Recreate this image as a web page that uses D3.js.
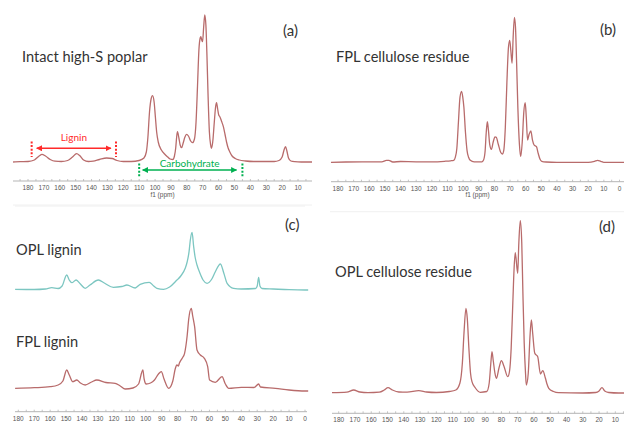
<!DOCTYPE html>
<html lang="en">
<head>
	<meta charset="UTF-8">
	<title>Solid-state 13C NMR spectra</title>
	<style>
		html, body {
			margin: 0;
			background: #fff;
		}
		svg text {
			font-family: Lato, 'Liberation Sans', sans-serif;
		}
		.tick-label, .axis-title {
			font-family: 'Liberation Sans', sans-serif;
			fill: #555;
		}
	</style>
	<script src="https://cdn.jsdelivr.net/npm/d3@7"></script>
</head>
<body>
	<svg id="container" width="624" height="425"></svg>
	<script>
		// spectra as [ppm, intensity (a.u.)], high ppm -> low ppm
		const poplarSpectrum = [
			[189.4, 0], [185, 0.3], [180, 0.5], [176, 2], [173, 6], [171.2, 7.7], [169, 6], [166, 2.5], [163, 0.8],
			[159, 0.5], [155, 1.5], [152, 5], [149.4, 8.3], [147.5, 6.5], [145, 2], [142, 0.5], [139, 0.8], [135, 2.5],
			[130.5, 4], [127, 3.5], [124, 1.5], [120, 0.5], [115, 0.5], [110, 1.5], [107, 4], [105.5, 10], [104.5, 25],
			[103.5, 50], [102.5, 63], [101.6, 66.3], [100.6, 60], [99.8, 45], [99, 30], [98, 20], [96, 12], [94, 8],
			[92, 5], [90.5, 3], [88.8, 2.5], [87.8, 6], [87, 14], [86.4, 25], [85.9, 30.3], [85, 24], [84.2, 17],
			[83.3, 14.3], [82.3, 19], [81.2, 25], [80.2, 27.7], [79, 26], [77.6, 21], [76.4, 19.3], [75.2, 23],
			[74.2, 40], [73.3, 75], [72.4, 112], [71.6, 124], [71.2, 125.3], [70.6, 122], [70.1, 120.3], [69.4, 135],
			[68.7, 147], [68, 137], [67.4, 110], [66.6, 65], [65.8, 30], [65, 17], [64.5, 13.7], [63.7, 20], [62.7, 40],
			[61.9, 55], [61.3, 59.3], [60.6, 53], [59.9, 47], [59.2, 45.3], [58.2, 41], [57, 35.3], [56, 28], [55, 20],
			[54, 14], [53, 10.3], [51.5, 6], [49.5, 3.5], [47, 2], [43, 1], [38, 0.5], [30, 0.5], [25, 0.5], [22, 1.5],
			[20, 5], [18.8, 12], [17.9, 15.3], [17, 11], [16, 4], [14.5, 1], [12, 0.3], [8, 0], [4, 0], [0, 0]
		];
		const fplResidueSpectrum = [
			[184.5, 0], [175, 0.3], [160, 0.5], [152, 0.5], [149, 2], [147.5, 2], [145, 0.3], [140, 0.8], [130, 0.5],
			[120, 0.5], [112, 1], [108, 1.5], [106, 2], [105, 5], [104, 14], [103, 40], [102, 65], [101, 71],
			[100.2, 65], [99.5, 55], [98.5, 30], [97.5, 12], [96.5, 5], [95.4, 2], [93, 0.5], [88, 0.5], [87, 2],
			[86, 10], [85.2, 30], [84.5, 40.6], [83.8, 32], [83, 18], [81.9, 13], [80.8, 20], [79.6, 25.5],
			[78.8, 25], [77.5, 18], [76, 10], [74.9, 8.3], [74, 12], [73, 35], [72, 80], [71, 115], [70.2, 122],
			[69.5, 112], [68.7, 99], [68, 125], [67.2, 145], [66.5, 135], [65.8, 100], [65, 55], [64, 18],
			[63.2, 5.6], [62.2, 20], [61.2, 50], [60.3, 59.6], [59.6, 45], [58.8, 22.3], [57.8, 28], [56.7, 31.3],
			[55.6, 22], [54.6, 17.3], [53.1, 15.6], [52, 9], [50.8, 3], [49.7, 1], [47, 0.3], [40, 0], [20, 0],
			[16, 1], [14, 2], [12, 1], [10, 0], [0, 0], [-4, 0]
		];
		const oplLigninSpectrum = [
			[182, 0.7], [170, 0.5], [163, 1], [159, 2.3], [155, 1.5], [152.5, 4], [149.6, 15], [148, 10],
			[146.4, 7.3], [143.7, 10], [141, 6], [138, 1.7], [135, 5], [129.7, 10], [126, 7], [120.3, 2.7],
			[115, 3.5], [111.8, 5], [106.6, 2], [103.5, 5.7], [97.8, 7.7], [95, 4], [93, 1.7], [88.8, 0.7],
			[85, 3], [80.4, 10], [78, 14], [75.2, 21.7], [74, 28], [72.8, 38.3], [72, 50], [70.9, 57.7],
			[69.9, 43.3], [69, 33], [67.8, 25], [66, 17], [64, 10], [61.5, 6.7], [58.5, 11], [56.3, 18.3],
			[53.1, 26], [51, 17], [48.9, 6.7], [44.8, 1.7], [40, 1], [31, 1.5], [30, 4], [29.1, 12.7], [28.3, 4],
			[27, 1.5], [20, 1], [10, 0.3], [0, 0], [-2, 0]
		];
		const fplLigninSpectrum = [
			[182, 2.7], [170, 3.3], [160, 4.3], [155, 6], [152, 10], [149.6, 21], [148, 16], [145.8, 9.3],
			[143.3, 11], [141, 8], [138, 6], [134, 9], [130.7, 11], [125, 8.5], [119.2, 7.7], [116, 5],
			[112.9, 2], [108, 3], [104.5, 7], [101.8, 21], [101, 12], [99.7, 7], [97, 8], [94.5, 11], [92, 17],
			[90.2, 19.3], [88.5, 12], [85.6, 2.7], [83, 10], [81.5, 22], [80.4, 26], [79.5, 25], [78.9, 27.7],
			[77, 33], [75.6, 37.7], [74, 55], [73, 72], [71.4, 82.7], [70.5, 75], [69.3, 64.3], [67.8, 41],
			[65.7, 36], [63.2, 32.7], [61.1, 24.3], [59.9, 11], [56.3, 8.7], [52.1, 14.3], [50, 7], [47.9, 2.7],
			[40, 3.7], [32, 3.5], [29.1, 7], [28, 4], [18.6, 2.7], [10, 1], [0, 0], [-2, 0]
		];
		const oplResidueSpectrum = [
			[184.1, 0.3], [175, 0.8], [170.8, 3], [167, 1], [162, 0.3], [155, 0.8], [152, 3], [149.7, 5.3],
			[147, 3], [143, 1], [138, 0.8], [130.8, 2.3], [126, 1], [120, 0.5], [112, 1.5], [108, 3], [105.5, 10],
			[104, 30], [103, 60], [101.8, 84.7], [101, 75], [100, 45], [99, 20], [98.1, 11.3], [96, 5], [93, 0.7],
			[89, 1.5], [87.5, 10], [86.5, 30], [85.8, 41.3], [85, 32], [84, 20], [83.1, 14.7], [81.5, 25],
			[80, 32.3], [78.5, 27], [76.1, 16.3], [75, 22], [74, 45], [73, 90], [72.2, 125], [71.5, 140.3],
			[70, 119.7], [69.3, 150], [68.4, 172.3], [67.5, 150], [66.8, 100], [66, 50], [65.2, 20], [64.7, 8],
			[63.5, 20], [62.5, 55], [61.6, 73], [60.8, 60], [59.5, 39.7], [57.7, 36.3], [56, 19], [54.6, 22.3],
			[53, 15], [52, 9], [50.9, 4.7], [48, 1.5], [45, 0.3], [30, 0], [22, 0.5], [20, 2], [18.2, 5.3],
			[16.5, 2], [14, 0.5], [8, 0], [0, 0]
		];

		const ppmTicks = d3.range(180, -1, -10);
		const minorTicks = d3.range(185, -1, -5);
		const panelLetters = ['(a)', '(b)', '(c)', '(d)'];
		const spectrumNames = ['Intact high-S poplar', 'FPL cellulose residue', 'OPL lignin', 'FPL lignin', 'OPL cellulose residue'];
		const regionNames = ['Lignin', 'Carbohydrate'];
		const regionBounds = [[177.7, 124.6], [110, 45]];
		const regionArrows = [[174.5, 127.8], [107.8, 48.7]];

		const config = {
			brown: '#b86b6b',
			teal: '#7cc6c1',
			text: '#333',
			axis: '#b5b5b5',
			// bottom panels lose their axis title below the picture edge
			panels: [
				{ clip: [0, 0, 312, 212], x180: 28, x0: 313.9, left: 13, right: 312, axisY: 181, letter: [283, 36], title: true },
				{ clip: [312, 0, 312, 212], x180: 338, x0: 619.5, left: 331, right: 624, axisY: 181.7, letter: [600, 35], title: true },
				{ clip: [0, 212, 312, 213], x180: 18.3, x0: 305, left: 15, right: 307, axisY: 411.7, letter: [285, 230], title: false },
				{ clip: [312, 212, 312, 213], x180: 338.7, x0: 631.6, left: 332, right: 624, axisY: 413.3, letter: [599, 232], title: false },
			],
			// spectrum -> panel, baseline y, colour, name position
			traces: [
				{ data: poplarSpectrum, panel: 0, base: 162, color: 'brown', name: 0, label: [22, 62] },
				{ data: fplResidueSpectrum, panel: 1, base: 162.3, color: 'brown', name: 1, label: [336, 62] },
				{ data: oplLigninSpectrum, panel: 2, base: 290, color: 'teal', name: 2, label: [16, 255] },
				{ data: fplLigninSpectrum, panel: 2, base: 391, color: 'brown', name: 3, label: [16, 347] },
				{ data: oplResidueSpectrum, panel: 3, base: 393, color: 'brown', name: 4, label: [335, 277] },
			],
			regions: [
				{ color: '#ff2a2a', lineY: [141.5, 157], arrowY: 148.3, textY: 141 },
				{ color: '#00b050', lineY: [163.5, 178], arrowY: 170, textY: 166.5 },
			],
		};

		const svg = d3.select('#container');
		const defs = svg.append('defs');

		// x scales per panel
		const xScales = config.panels.map(p => d3.scaleLinear().domain([180, 0]).range([p.x180, p.x0]));

		config.panels.forEach((p, i) => {
			defs.append('clipPath').attr('id', `clip-${i}`)
				.append('rect')
				.attr('x', p.clip[0]).attr('y', p.clip[1])
				.attr('width', p.clip[2]).attr('height', p.clip[3]);
		});

		// faint frame lines between the panels
		[[13, 312, 205], [15, 305, 206], [330, 624, 211.7]].forEach(d => {
			svg.append('line')
				.attr('x1', d[0]).attr('x2', d[1]).attr('y1', d[2]).attr('y2', d[2])
				.attr('stroke', '#f0f0f0').attr('stroke-width', 1);
		});

		// axes
		config.panels.forEach((p, i) => {
			const x = xScales[i];
			const g = svg.append('g').attr('clip-path', `url(#clip-${i})`);
			g.append('line')
				.attr('x1', p.left).attr('x2', p.right)
				.attr('y1', p.axisY).attr('y2', p.axisY)
				.attr('stroke', config.axis).attr('stroke-width', 1);
			g.selectAll('.minor')
				.data(minorTicks.filter(t => x(t) >= p.left && x(t) <= p.right))
				.enter().append('line')
				.attr('class', 'minor')
				.attr('x1', d => x(d)).attr('x2', d => x(d))
				.attr('y1', p.axisY).attr('y2', p.axisY - 2)
				.attr('stroke', config.axis).attr('stroke-width', 0.8);
			g.selectAll('.tick-label')
				.data(ppmTicks.filter(t => x(t) >= p.left && x(t) <= p.right))
				.enter().append('text')
				.attr('class', 'tick-label')
				.attr('x', d => x(d))
				.attr('y', p.axisY + 9)
				.attr('text-anchor', 'middle')
				.attr('font-size', 6.5)
				.text(d => d);
			if (p.title) {
				g.append('text')
					.attr('class', 'axis-title')
					.attr('x', (p.left + p.right) / 2)
					.attr('y', p.axisY + 15.5)
					.attr('text-anchor', 'middle')
					.attr('font-size', 6.5)
					.text('f1 (ppm)');
			}
			svg.append('text')
				.attr('x', p.letter[0]).attr('y', p.letter[1])
				.attr('font-size', 15)
				.attr('fill', config.text)
				.text(panelLetters[i]);
		});

		// spectra
		config.traces.forEach(t => {
			const x = xScales[t.panel];
			const y = d3.scaleLinear().domain([0, 100]).range([t.base, t.base - 100]);
			const line = d3.line()
				.x(d => x(d[0]))
				.y(d => y(d[1]))
				.curve(d3.curveMonotoneX);
			svg.append('g').attr('clip-path', `url(#clip-${t.panel})`)
				.append('path')
				.datum(t.data)
				.attr('d', line)
				.attr('fill', 'none')
				.attr('stroke', config[t.color])
				.attr('stroke-width', 1.3)
				.attr('stroke-linejoin', 'round');
			svg.append('text')
				.attr('x', t.label[0]).attr('y', t.label[1])
				.attr('font-size', 14.6)
				.attr('fill', config.text)
				.text(spectrumNames[t.name]);
		});

		// lignin / carbohydrate ranges in panel (a)
		const xa = xScales[0];
		config.regions.forEach((r, i) => {
			const id = `head-${i}`;
			defs.append('marker').attr('id', id)
				.attr('viewBox', '0 0 10 10').attr('refX', 9).attr('refY', 5)
				.attr('markerWidth', 4).attr('markerHeight', 4)
				.attr('orient', 'auto-start-reverse')
				.append('path').attr('d', 'M0,0L10,5L0,10Z').attr('fill', r.color);
			svg.selectAll(`.bound-${i}`)
				.data(regionBounds[i])
				.enter().append('line')
				.attr('class', `bound-${i}`)
				.attr('x1', d => xa(d)).attr('x2', d => xa(d))
				.attr('y1', r.lineY[0]).attr('y2', r.lineY[1])
				.attr('stroke', r.color).attr('stroke-width', 2)
				.attr('stroke-dasharray', '2,1.6');
			svg.append('line')
				.attr('x1', xa(regionArrows[i][0])).attr('x2', xa(regionArrows[i][1]))
				.attr('y1', r.arrowY).attr('y2', r.arrowY)
				.attr('stroke', r.color).attr('stroke-width', 1.5)
				.attr('marker-start', `url(#${id})`)
				.attr('marker-end', `url(#${id})`);
			svg.append('text')
				.attr('x', xa((regionArrows[i][0] + regionArrows[i][1]) / 2))
				.attr('y', r.textY)
				.attr('text-anchor', 'middle')
				.attr('font-size', 10)
				.attr('fill', r.color)
				.text(regionNames[i]);
		});
	</script>
</body>
</html>
